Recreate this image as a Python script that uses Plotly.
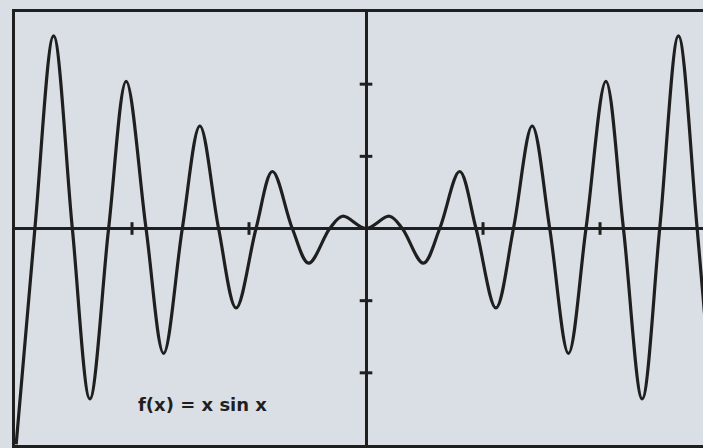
import plotly.graph_objects as go

# ============================================================
# Pontos (zeros e extremos de f(x) = x sin x)
# ============================================================
X_PONTOS = [-29.9, -28.3, -26.7, -25.1, -23.6, -22.0, -20.5, -18.8, -17.3,
            -15.7, -14.2, -12.6, -11.1, -9.4, -8.0, -6.3, -4.9, -3.1, -2.0,
            0.0,
            2.0, 3.1, 4.9, 6.3, 8.0, 9.4, 11.1, 12.6, 14.2, 15.7, 17.3,
            18.8, 20.5, 22.0, 23.6, 25.1, 26.7, 28.3, 29.9]
Y_PONTOS = [-29.9, 0.0, 26.7, 0.0, -23.6, 0.0, 20.4, 0.0, -17.3,
            0.0, 14.2, 0.0, -11.0, 0.0, 7.9, 0.0, -4.8, 0.0, 1.7,
            0.0,
            1.7, 0.0, -4.8, 0.0, 7.9, 0.0, -11.0, 0.0, 14.2, 0.0, -17.3,
            0.0, 20.4, 0.0, -23.6, 0.0, 26.7, 0.0, -29.9]

# Marcas de escala sobre os eixos
MARCAS = [-20, -10, 10, 20]

ROTULO = "f(x) = x sin x"

COR_TINTA = "#1f1f1f"
COR_PAPEL = "#dadfe5"

fig = go.Figure()

# Curva principal
fig.add_trace(go.Scatter(
    x=X_PONTOS, y=Y_PONTOS, mode="lines",
    line=dict(color=COR_TINTA, width=3.2, shape="spline", smoothing=1.0),
    hoverinfo="skip", showlegend=False,
))

# Marcas no eixo x
fig.add_trace(go.Scatter(
    x=MARCAS, y=[0] * len(MARCAS), mode="markers",
    marker=dict(symbol="line-ns", size=9,
                line=dict(color=COR_TINTA, width=3)),
    hoverinfo="skip", showlegend=False,
))
# Marcas no eixo y
fig.add_trace(go.Scatter(
    x=[0] * len(MARCAS), y=MARCAS, mode="markers",
    marker=dict(symbol="line-ew", size=9,
                line=dict(color=COR_TINTA, width=3)),
    hoverinfo="skip", showlegend=False,
))

fig.add_annotation(
    x=-14.0, y=-24.4, text="<b>" + ROTULO + "</b>", showarrow=False,
    font=dict(family="DejaVu Sans", size=18, color=COR_TINTA),
)

fig.update_layout(
    width=703, height=448,
    margin=dict(l=15, r=0, t=12, b=3),
    paper_bgcolor=COR_PAPEL,
    plot_bgcolor=COR_PAPEL,
    hovermode=False,
    xaxis=dict(range=[-30, 28.8], showgrid=False, showticklabels=False,
               ticks="", zeroline=True, zerolinecolor=COR_TINTA,
               zerolinewidth=3, showline=True, mirror=True,
               linecolor=COR_TINTA, linewidth=3),
    yaxis=dict(range=[-30, 30], showgrid=False, showticklabels=False,
               ticks="", zeroline=True, zerolinecolor=COR_TINTA,
               zerolinewidth=3, showline=True, mirror=False,
               linecolor=COR_TINTA, linewidth=3),
)

# sem margem da pagina, para a figura ocupar a janela toda
fig.write_html("out.html",
               config={"displayModeBar": False},
               post_script="document.body.style.margin='0';"
                           "document.body.style.overflow='hidden';")
